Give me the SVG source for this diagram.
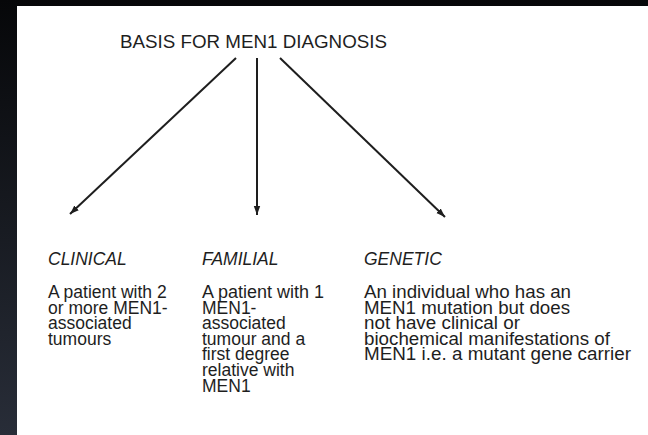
<svg xmlns="http://www.w3.org/2000/svg" width="648" height="435" viewBox="0 0 648 435">
  <defs>
    <linearGradient id="bg" x1="0" y1="0" x2="0" y2="1">
      <stop offset="0" stop-color="#060709"/>
      <stop offset="1" stop-color="#282d38"/>
    </linearGradient>
    <marker id="arrow" markerUnits="userSpaceOnUse" markerWidth="10" markerHeight="8" refX="9" refY="4" orient="auto">
      <path d="M0,0.8 L9,4 L0,7.2 Z" fill="#1e1e1e"/>
    </marker>
  </defs>
  <style>
    text { font-family: "Liberation Sans", Arial, sans-serif; fill: #1e1e1e; }
    .title { font-size: 18.5px; }
    .head { font-size: 17.5px; font-style: italic; }
    .body { font-size: 17.5px; }
    .conn { stroke: #1e1e1e; stroke-width: 2; fill: none; marker-end: url(#arrow); }
  </style>
  <rect x="0" y="0" width="648" height="435" fill="url(#bg)"/>
  <rect x="17" y="6" width="631" height="429" fill="#ffffff"/>

  <g id="root">
    <text class="title" x="120" y="48" textLength="267" lengthAdjust="spacingAndGlyphs">BASIS FOR MEN1 DIAGNOSIS</text>
  </g>

  <g id="connectors">
    <line class="conn" x1="236" y1="58" x2="70" y2="214"/>
    <line class="conn" x1="257" y1="58" x2="257" y2="215"/>
    <line class="conn" x1="280" y1="58" x2="445" y2="217"/>
  </g>

  <g id="clinical">
    <text class="head" x="48" y="265">CLINICAL</text>
    <text class="body" x="48" y="298">A patient with 2</text>
    <text class="body" x="48" y="313.6">or more MEN1-</text>
    <text class="body" x="48" y="329.2">associated</text>
    <text class="body" x="48" y="344.8">tumours</text>
  </g>

  <g id="familial">
    <text class="head" x="202" y="265">FAMILIAL</text>
    <text class="body" x="202" y="298" textLength="122" lengthAdjust="spacingAndGlyphs">A patient with 1</text>
    <text class="body" x="202" y="313.6">MEN1-</text>
    <text class="body" x="202" y="329.2">associated</text>
    <text class="body" x="202" y="344.8">tumour and a</text>
    <text class="body" x="202" y="360.4">first degree</text>
    <text class="body" x="202" y="376">relative with</text>
    <text class="body" x="202" y="391.6">MEN1</text>
  </g>

  <g id="genetic">
    <text class="head" x="364" y="265">GENETIC</text>
    <text class="body" x="364" y="298" textLength="207" lengthAdjust="spacingAndGlyphs">An individual who has an</text>
    <text class="body" x="364" y="313.6" textLength="206" lengthAdjust="spacingAndGlyphs">MEN1 mutation but does</text>
    <text class="body" x="364" y="329.2" textLength="156" lengthAdjust="spacingAndGlyphs">not have clinical or</text>
    <text class="body" x="364" y="344.8" textLength="246" lengthAdjust="spacingAndGlyphs">biochemical manifestations of</text>
    <text class="body" x="364" y="360.4" textLength="267" lengthAdjust="spacingAndGlyphs">MEN1 i.e. a mutant gene carrier</text>
  </g>
</svg>
